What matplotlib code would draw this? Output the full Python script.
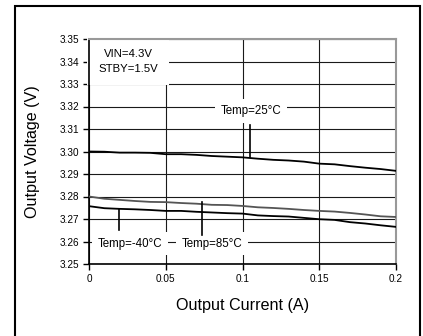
import matplotlib
matplotlib.use("Agg")
import matplotlib.pyplot as plt
from matplotlib.patches import Rectangle

plt.rcParams['font.family'] = ['Liberation Sans', 'DejaVu Sans']

# ----------------------------
# Data
# ----------------------------
current = [0.0, 0.01, 0.02, 0.03, 0.04, 0.05, 0.06, 0.07, 0.08, 0.09, 0.10,
           0.11, 0.12, 0.13, 0.14, 0.15, 0.16, 0.17, 0.18, 0.19, 0.20]
v_25 = [3.3000, 3.2999, 3.2995, 3.2995, 3.2994, 3.2988, 3.2988, 3.2985, 3.2980, 3.2977, 3.2974,
        3.2968, 3.2963, 3.2960, 3.2955, 3.2946, 3.2943, 3.2935, 3.2928, 3.2922, 3.2914]
v_85 = [3.2800, 3.2790, 3.2785, 3.2780, 3.2776, 3.2775, 3.2771, 3.2768, 3.2763, 3.2762, 3.2758,
        3.2752, 3.2749, 3.2745, 3.2740, 3.2736, 3.2733, 3.2727, 3.2720, 3.2712, 3.2709]
v_m40 = [3.2757, 3.2748, 3.2745, 3.2743, 3.2740, 3.2736, 3.2736, 3.2732, 3.2729, 3.2726, 3.2724,
         3.2716, 3.2713, 3.2711, 3.2705, 3.2699, 3.2696, 3.2686, 3.2680, 3.2672, 3.2665]

x_ticks = [0, 0.05, 0.1, 0.15, 0.2]
x_tick_labels = ['0', '0.05', '0.1', '0.15', '0.2']
y_ticks = [3.25, 3.26, 3.27, 3.28, 3.29, 3.30, 3.31, 3.32, 3.33, 3.34, 3.35]

# ----------------------------
# Figure
# ----------------------------
fig = plt.figure(figsize=(4.23, 3.36), dpi=100)
ax = fig.add_axes([89 / 423, 1 - 264 / 336, (396 - 89) / 423, (264 - 39) / 336])

# outer frame (bottom edge is off the picture)
fig.add_artist(Rectangle((14.5 / 423, -0.05), (420 - 14.5) / 423, 1.05 - 5.5 / 336,
                         transform=fig.transFigure, fill=False, edgecolor='black', lw=1.5))

ax.set_xlim(0, 0.2)
ax.set_ylim(3.25, 3.35)
ax.set_xticks(x_ticks)
ax.set_xticklabels(x_tick_labels)
ax.set_yticks(y_ticks)
ax.set_yticklabels([f"{v:.2f}" for v in y_ticks])
ax.grid(True, color='#1a1a1a', lw=0.8)
ax.set_axisbelow(True)
ax.tick_params(labelsize=7.2, length=4, width=1, direction='out', pad=3)
ax.spines['top'].set_color('#999999')
ax.spines['right'].set_color('#999999')
ax.spines['top'].set_linewidth(1.5)
ax.spines['right'].set_linewidth(1.5)
ax.spines['left'].set_linewidth(1.2)
ax.spines['bottom'].set_linewidth(1.2)

ax.plot(current, v_25, color='black', lw=1.3, zorder=3)
ax.plot(current, v_85, color='#555555', lw=1.3, zorder=3)
ax.plot(current, v_m40, color='black', lw=1.3, zorder=3)

ax.set_xlabel("Output Current (A)", fontsize=11.6, labelpad=10)
ax.set_ylabel("Output Voltage (V)", fontsize=11.6, labelpad=14)

box = dict(facecolor='white', edgecolor='none', pad=4)

ax.text(0.0255, 3.3400, "VIN=4.3V\nSTBY=1.5V", fontsize=8.2, ha='center', va='center',
        linespacing=1.6, bbox=dict(facecolor='white', edgecolor='none', pad=8), zorder=2)
ax.text(0.1055, 3.3180, "Temp=25°C", fontsize=8.3, ha='center', va='center', bbox=box, zorder=2)
ax.text(0.0265, 3.2590, "Temp=-40°C", fontsize=8.3, ha='center', va='center', bbox=box, zorder=2)
ax.text(0.0800, 3.2590, "Temp=85°C", fontsize=8.3, ha='center', va='center', bbox=box, zorder=2)

# leader lines
ax.plot([0.1050, 0.1050], [3.3119, 3.2976], color='black', lw=1.2, zorder=3)
ax.plot([0.0197, 0.0197], [3.2743, 3.2651], color='black', lw=1.2, zorder=3)
ax.plot([0.0734, 0.0734], [3.2777, 3.2629], color='black', lw=1.2, zorder=3)

fig.savefig("out.png", dpi=100)
